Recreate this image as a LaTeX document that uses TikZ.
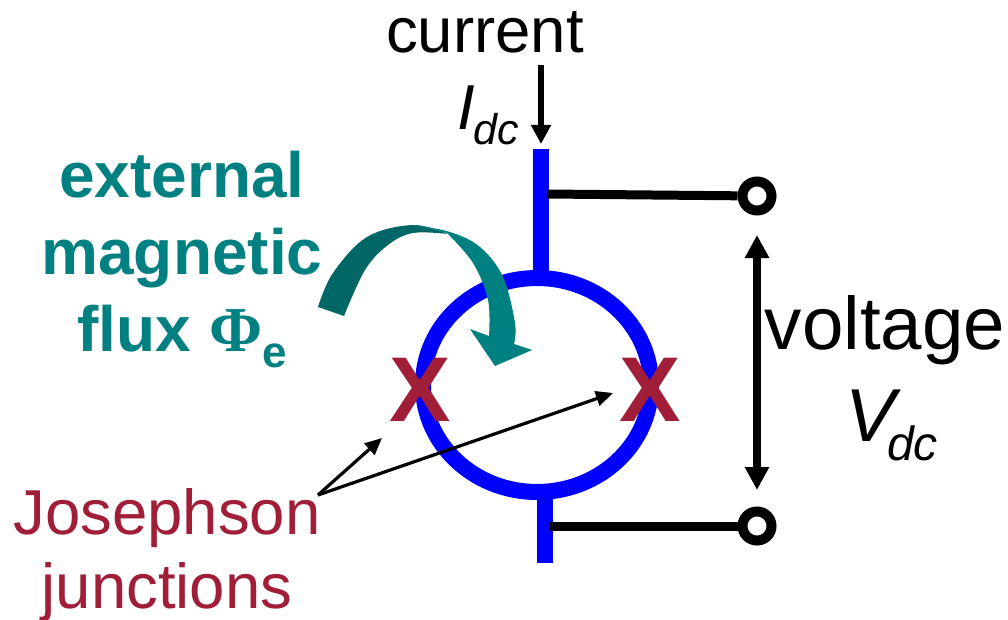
\documentclass[tikz,border=0pt]{standalone}
\usepackage{fontspec}
\setmainfont{Liberation Sans}
\newfontfamily\serifsym{Liberation Serif}
\usetikzlibrary{arrows.meta,calc}
\definecolor{teal1}{RGB}{0,128,128}
\definecolor{teal2}{RGB}{0,102,102}
\definecolor{jj}{RGB}{160,30,56}
\definecolor{wire}{RGB}{0,0,255}
\tikzset{
 px/.style={x=1pt,y=-1pt},
 lab/.style={inner sep=0pt,align=center,font=\fontsize{63.5}{70}\selectfont},
 wirel/.style={draw=wire,line width=16pt},
 lead/.style={draw=black,line width=9pt},
 term/.style={circle,draw=black,fill=white,line width=10pt,minimum size=29pt,inner sep=0pt},
 arr/.style={draw=black,line width=3.2pt,-{Triangle[length=17pt,width=15pt]}},
 varr/.style={draw=black,line width=8.5pt,{Triangle[length=23pt,width=23pt]}-{Triangle[length=23pt,width=23pt]}},
 cross/.style={text=jj,inner sep=0pt,font=\fontsize{92}{92}\bfseries\selectfont},
}
\begin{document}
\begin{tikzpicture}[px]
\useasboundingbox (0,0) rectangle (1008,620);
\coordinate (c) at (537,385);
\draw[wirel] (c) ellipse (114 and 107);
\coordinate (wt) at (541,149);
\coordinate (wtb) at (541,275);
\coordinate (wb) at (545,490);
\coordinate (wbb) at (545,563);
\draw[wirel] (wt) -- (wtb);
\draw[wirel] (wb) -- (wbb);
\node[term] (t1) at (757,196) {};
\node[term] (t2) at (757,526) {};
\coordinate (l1) at (547,194);
\coordinate (l2) at (550,526);
\draw[lead] (l1) -- (t1);
\draw[lead] (l2) -- (t2);
\node[lab] (cur) at (485,32) {current};
\node[lab,anchor=base west] (idc) at (457,130) {\textit{I\kern-1pt\raisebox{-15pt}{\fontsize{43}{43}\selectfont dc}}};
\coordinate (a1) at (541,65);
\coordinate (a2) at (541,144);
\draw[draw=black,line width=6.5pt,-{Triangle[length=19pt,width=19pt]}] (a1) -- (a2);
\coordinate (v1) at (757,235);
\coordinate (v2) at (757,490);
\draw[varr] (v1) -- (v2);
\node[lab,font=\fontsize{74.5}{80}\selectfont] (volt) at (885,330) {voltage};
\node[lab,anchor=base west,font=\fontsize{75}{80}\selectfont] (vdc) at (845,441) {\textit{V\kern-8pt\raisebox{-19pt}{\fontsize{48}{48}\selectfont dc}}};
\node[lab,text=teal1,font=\fontsize{64}{77}\bfseries\selectfont] (flux) at (182,260) {external\\magnetic\\flux {\serifsym\bfseries Φ}\raisebox{-16pt}{\fontsize{44}{44}\selectfont e}};
\node[lab,text=jj,font=\fontsize{63.5}{74}\selectfont] (jos) at (167,555) {Josephson\\junctions};
\coordinate (ja) at (318,495);
\coordinate (j1) at (382,438);
\coordinate (j2) at (613,393);
\draw[arr] (ja) -- (j1);
\draw[arr] (ja) -- (j2);
\fill[teal2] plot[smooth,tension=0.6] coordinates {(318,307) (333,273) (367,237) (413,225) (448,234)}
 -- plot[smooth,tension=0.6] coordinates {(448,234) (413,233) (388,245) (365,270) (344,316)} -- cycle;
\fill[teal1] plot[smooth,tension=0.6] coordinates {(413,225) (450,232) (480,247) (503,277) (515,323) (514,344)}
 -- (532,350) -- (495,366) -- (470,329)
 -- plot[smooth,tension=0.6] coordinates {(489,336) (488,300) (473,263) (447,233)} -- cycle;
\node[cross] (x1) at (420,390) {X};
\node[cross] (x2) at (650,390) {X};
\end{tikzpicture}
\end{document}
